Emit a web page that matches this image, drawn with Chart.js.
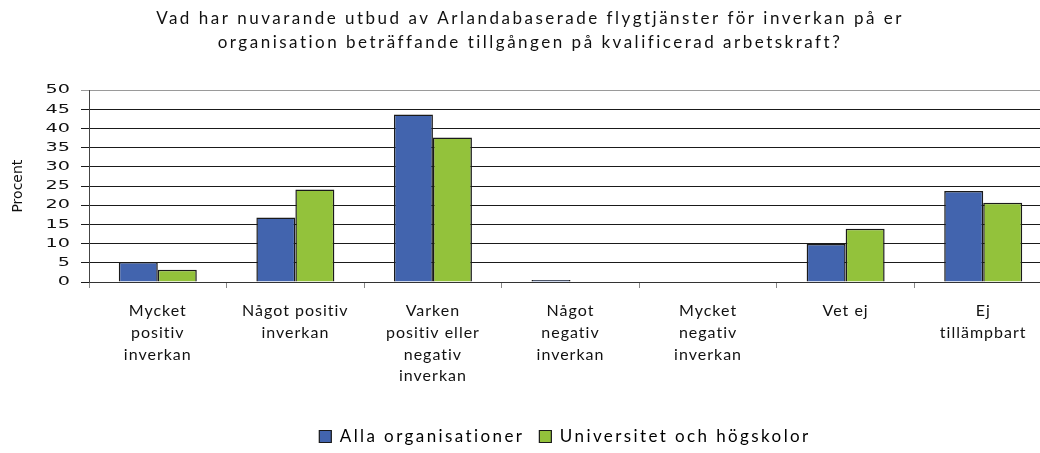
<!DOCTYPE html>
<html lang="sv">
<head>
<meta charset="utf-8">
<title>Arlandabaserade flygtjänster – kvalificerad arbetskraft</title>
<script src="https://cdn.jsdelivr.net/npm/chart.js@4.4.1/dist/chart.umd.min.js"></script>
<style>
  html, body { margin: 0; padding: 0; background: #fff; overflow: hidden; }
  #wrap { position: relative; width: 1052px; height: 453px; }
</style>
</head>
<body>
<div id="wrap"><canvas id="chart"></canvas></div>
<script>
// ---- data ----
const categories = [
  ['Mycket', 'positiv', 'inverkan'],
  ['Något positiv', 'inverkan'],
  ['Varken', 'positiv eller', 'negativ', 'inverkan'],
  ['Något', 'negativ', 'inverkan'],
  ['Mycket', 'negativ', 'inverkan'],
  ['Vet ej'],
  ['Ej', 'tillämpbart']
];
const allaOrg   = [5.2, 16.8, 43.7, 0.5, 0, 9.9, 23.7];
const univHogsk = [3.2, 24.1, 37.7, 0, 0, 13.9, 20.7];
const yTicks    = [0, 5, 10, 15, 20, 25, 30, 35, 40, 45, 50];
const titleLines = [
  'Vad har nuvarande utbud av Arlandabaserade flygtjänster för inverkan på er',
  'organisation beträffande tillgången på kvalificerad arbetskraft?'
];

const BLUE  = '#4264ae';
const GREEN = '#93c23b';
const EDGE  = '#1a1a1a';
const TXT   = 'Lato, "Open Sans", sans-serif';

// flyttar legenden lite åt höger/nedåt, som i originalet
const legendShift = {
  id: 'legendShift',
  afterLayout(chart) {
    const lg = chart.legend;
    if (!lg) return;
    lg.left += 35; lg.right += 35;
    lg.top += 2;   lg.bottom += 2;
  }
};

const chart = new Chart(document.getElementById('chart'), {
  type: 'bar',
  data: {
    labels: categories,
    datasets: [
      { label: 'Alla organisationer', data: allaOrg, backgroundColor: BLUE,
        borderColor: EDGE, borderWidth: 1.5, borderSkipped: 'start' },
      { label: 'Universitet och högskolor', data: univHogsk, backgroundColor: GREEN,
        borderColor: EDGE, borderWidth: 1.5, borderSkipped: 'start' }
    ]
  },
  options: {
    responsive: true,
    maintainAspectRatio: false,
    animation: false,
    categoryPercentage: 0.567,
    barPercentage: 1.0,
    layout: { padding: { left: 8, right: 0, top: 0, bottom: 0 } },
    plugins: {
      tooltip: { enabled: false },
      title: {
        display: true,
        text: titleLines,
        color: '#111',
        font: { family: TXT, size: 17, weight: 'normal', lineHeight: 1.42 },
        padding: { top: 6, bottom: 36 }
      },
      legend: {
        position: 'bottom',
        labels: {
          color: '#111',
          font: { family: TXT, size: 17 },
          boxWidth: 12,
          boxHeight: 12,
          padding: 15,
          generateLabels(c) {
            return c.data.datasets.map((ds, i) => ({
              text: ds.label,
              fillStyle: ds.backgroundColor,
              strokeStyle: EDGE,
              lineWidth: 1.2,
              hidden: false,
              datasetIndex: i
            }));
          }
        }
      }
    },
    scales: {
      x: {
        afterFit(scale) { scale.height = 129; },
        grid: {
          offset: true,
          drawOnChartArea: false,
          drawTicks: true,
          tickLength: 6,
          color: '#888'
        },
        border: { display: true, color: '#333', width: 1 },
        ticks: {
          autoSkip: false,
          maxRotation: 0,
          minRotation: 0,
          padding: 12,
          color: '#111',
          font: { family: TXT, size: 16, lineHeight: 1.36 }
        }
      },
      y: {
        min: 0,
        max: 50,
        afterBuildTicks(scale) { scale.ticks = yTicks.map(v => ({ value: v })); },
        afterFit(scale) { scale.width = 81; },
        grid: {
          color: ctx => (ctx.tick && ctx.tick.value === 50 ? '#9a9a9a' : '#1a1a1a'),
          lineWidth: 1,
          tickLength: 8,
          drawTicks: true
        },
        border: { display: true, color: '#444', width: 1 },
        ticks: {
          padding: 11,
          color: '#111',
          font: { family: 'DejaVu Sans', size: 12 }
        },
        title: {
          display: true,
          text: 'Procent',
          color: '#111',
          font: { family: 'DejaVu Sans', size: 14 },
          padding: { top: 2, bottom: 0 }
        }
      }
    }
  },
  plugins: [legendShift]
});

// bredare teckenavstånd som i originalet (canvas letterSpacing)
function spaced(obj, names, px) {
  names.forEach(n => {
    const fn = obj[n];
    obj[n] = function (...args) {
      const c = this.ctx;
      const prev = c.letterSpacing;
      c.letterSpacing = px;
      const r = fn.apply(this, args);
      c.letterSpacing = prev || '0px';
      return r;
    };
  });
}

// y-etiketterna är breddade i originalet: sträck dem vågrätt kring högerkanten
function stretchLabels(scale, sx) {
  const fn = scale.drawLabels;
  scale.drawLabels = function (...args) {
    const c = this.ctx;
    const ax = this.right - this.options.grid.tickLength - this.options.ticks.padding;
    c.save();
    c.translate(ax, 0);
    c.scale(sx, 1);
    c.translate(-ax, 0);
    const r = fn.apply(this, args);
    c.restore();
    return r;
  };
}

spaced(chart.titleBlock, ['draw'], '2.5px');
spaced(chart.legend, ['fit', 'draw'], '2.4px');
spaced(chart.scales.x, ['drawLabels'], '1px');
stretchLabels(chart.scales.y, 1.6);
chart.update('none');
</script>
</body>
</html>
